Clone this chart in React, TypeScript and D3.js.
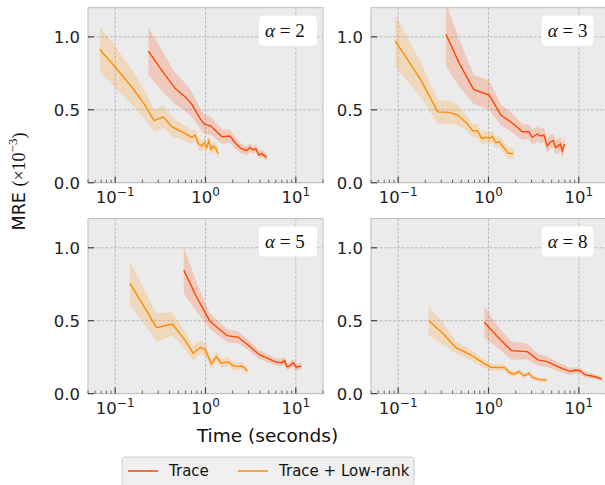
import React from 'react';
import * as d3 from 'd3';

const W = 605;
const H = 485;
const RED = '#ff4500';
const ORANGE = '#ff8c00';

// alpha = 2
const a2TraceTime = [0.233, 0.327, 0.459, 0.593, 0.703, 0.869, 0.97, 1.15, 1.33, 1.53, 1.87, 2.12, 2.47, 2.86, 3.11, 3.33, 3.6, 3.91, 4.19, 4.76];
const a2TraceMre = [0.902, 0.772, 0.647, 0.589, 0.539, 0.441, 0.402, 0.388, 0.349, 0.315, 0.32, 0.274, 0.235, 0.219, 0.242, 0.224, 0.233, 0.19, 0.201, 0.174];
const a2TraceErr = [0.163, 0.14, 0.108, 0.095, 0.085, 0.07, 0.068, 0.06, 0.055, 0.05, 0.045, 0.04, 0.035, 0.03, 0.03, 0.028, 0.028, 0.025, 0.025, 0.025];
const a2LowTime = [0.0674, 0.0995, 0.152, 0.214, 0.269, 0.341, 0.423, 0.593, 0.703, 0.766, 0.832, 0.907, 0.97, 1.03, 1.09, 1.15, 1.22, 1.3, 1.39];
const a2LowMre = [0.914, 0.795, 0.658, 0.532, 0.425, 0.452, 0.384, 0.338, 0.311, 0.327, 0.27, 0.251, 0.274, 0.242, 0.288, 0.229, 0.251, 0.235, 0.197];
const a2LowErr = [0.156, 0.14, 0.12, 0.095, 0.078, 0.075, 0.065, 0.05, 0.045, 0.045, 0.04, 0.04, 0.038, 0.038, 0.036, 0.035, 0.035, 0.035, 0.035];

// alpha = 3
const a3TraceTime = [0.338, 0.475, 0.684, 1.02, 1.37, 1.76, 2.37, 2.81, 3.05, 3.47, 3.78, 4.11, 4.47, 4.87, 5.21, 5.52, 5.87, 6.27, 6.55, 6.95];
const a3TraceMre = [1.018, 0.818, 0.64, 0.601, 0.464, 0.418, 0.349, 0.349, 0.311, 0.334, 0.32, 0.327, 0.251, 0.281, 0.288, 0.242, 0.251, 0.265, 0.219, 0.265];
const a3TraceErr = [0.22, 0.16, 0.1, 0.1, 0.07, 0.065, 0.055, 0.05, 0.05, 0.05, 0.05, 0.05, 0.05, 0.05, 0.05, 0.05, 0.05, 0.05, 0.05, 0.05];
const a3LowTime = [0.0927, 0.128, 0.179, 0.274, 0.369, 0.455, 0.586, 0.667, 0.757, 0.838, 0.933, 1.02, 1.11, 1.2, 1.31, 1.43, 1.51, 1.65, 1.89];
const a3LowMre = [0.973, 0.84, 0.703, 0.486, 0.482, 0.464, 0.402, 0.356, 0.356, 0.304, 0.311, 0.304, 0.315, 0.274, 0.281, 0.251, 0.235, 0.201, 0.201];
const a3LowErr = [0.176, 0.15, 0.12, 0.08, 0.08, 0.07, 0.05, 0.045, 0.045, 0.04, 0.04, 0.04, 0.04, 0.04, 0.04, 0.04, 0.04, 0.04, 0.04];

// alpha = 5
const a5TraceTime = [0.575, 0.794, 1.11, 1.38, 1.75, 2.3, 2.96, 3.98, 4.92, 5.83, 6.92, 7.53, 7.98, 8.55, 9.31, 10.1, 11.5];
const a5TraceMre = [0.847, 0.664, 0.5, 0.448, 0.397, 0.386, 0.333, 0.265, 0.242, 0.219, 0.212, 0.226, 0.185, 0.19, 0.212, 0.181, 0.19];
const a5TraceErr = [0.16, 0.1, 0.055, 0.05, 0.045, 0.04, 0.035, 0.03, 0.028, 0.025, 0.025, 0.025, 0.025, 0.025, 0.025, 0.025, 0.025];
const a5LowTime = [0.146, 0.204, 0.287, 0.428, 0.59, 0.73, 0.887, 1.0, 1.16, 1.32, 1.5, 1.78, 2.02, 2.29, 2.5, 2.72, 2.91];
const a5LowMre = [0.756, 0.607, 0.452, 0.477, 0.368, 0.277, 0.318, 0.299, 0.203, 0.253, 0.208, 0.219, 0.19, 0.185, 0.19, 0.174, 0.155];
const a5LowErr = [0.15, 0.12, 0.097, 0.08, 0.06, 0.05, 0.045, 0.04, 0.035, 0.035, 0.03, 0.03, 0.028, 0.025, 0.025, 0.025, 0.025];

// alpha = 8
const a8TraceTime = [0.897, 1.26, 1.79, 2.69, 3.53, 4.47, 6.02, 8.08, 9.17, 10.4, 11.8, 14.0, 15.9, 18.0];
const a8TraceMre = [0.489, 0.39, 0.295, 0.288, 0.231, 0.219, 0.181, 0.151, 0.162, 0.155, 0.128, 0.121, 0.112, 0.099];
const a8TraceErr = [0.106, 0.075, 0.063, 0.055, 0.04, 0.035, 0.03, 0.025, 0.022, 0.02, 0.02, 0.018, 0.015, 0.015];
const a8LowTime = [0.218, 0.311, 0.436, 0.638, 0.859, 1.06, 1.51, 1.69, 1.92, 2.18, 2.47, 2.81, 3.05, 3.47, 3.78, 4.4];
const a8LowMre = [0.5, 0.414, 0.315, 0.265, 0.212, 0.181, 0.178, 0.146, 0.133, 0.151, 0.121, 0.14, 0.112, 0.099, 0.094, 0.094];
const a8LowErr = [0.1, 0.075, 0.04, 0.035, 0.03, 0.025, 0.022, 0.02, 0.02, 0.018, 0.018, 0.015, 0.015, 0.015, 0.015, 0.015];

const alphas = [2, 3, 5, 8];
const xDomain = [0.05, 20];
const yDomain = [0, 1.2];
const xTicks = [0.1, 1, 10];
const xTickExps = ['−1', '0', '1'];
const yTicks = [0, 0.5, 1.0];
const yTickLabels = ['0.0', '0.5', '1.0'];
const seriesNames = ['Trace', 'Trace + Low-rank'];

type Series = { t: number[]; v: number[]; e: number[] };
const panelData: { trace: Series; low: Series }[] = [
  { trace: { t: a2TraceTime, v: a2TraceMre, e: a2TraceErr }, low: { t: a2LowTime, v: a2LowMre, e: a2LowErr } },
  { trace: { t: a3TraceTime, v: a3TraceMre, e: a3TraceErr }, low: { t: a3LowTime, v: a3LowMre, e: a3LowErr } },
  { trace: { t: a5TraceTime, v: a5TraceMre, e: a5TraceErr }, low: { t: a5LowTime, v: a5LowMre, e: a5LowErr } },
  { trace: { t: a8TraceTime, v: a8TraceMre, e: a8TraceErr }, low: { t: a8LowTime, v: a8LowMre, e: a8LowErr } },
];

const PW = 235;
const PH = 175;
const colLeft = [88, 371];
const rowTop = [7.7, 218.6];
const SANS = 'DejaVu Sans, sans-serif';
const MATH = 'Liberation Serif, DejaVu Serif, serif';

function minorTicks(): number[] {
  const out: number[] = [];
  for (let e = -2; e <= 1; e++) {
    for (let m = 2; m <= 9; m++) {
      const v = m * Math.pow(10, e);
      if (v >= xDomain[0] - 1e-9 && v <= xDomain[1] + 1e-9) out.push(v);
    }
  }
  return out;
}

function Panel({ idx }: { idx: number }) {
  const col = idx % 2;
  const row = Math.floor(idx / 2);
  const left = colLeft[col];
  const top = rowTop[row];
  const x = d3.scaleLog().domain(xDomain).range([left, left + PW]);
  const y = d3.scaleLinear().domain(yDomain).range([top + PH, top]);
  const bottom = top + PH;
  const clipId = `clip${idx}`;
  const data = panelData[idx];

  const line = (s: Series) =>
    d3.line<number>().x((_, i) => x(s.t[i])).y((d) => y(d))(s.v) || '';
  const area = (s: Series) =>
    d3
      .area<number>()
      .x((_, i) => x(s.t[i]))
      .y0((d, i) => y(d - s.e[i]))
      .y1((d, i) => y(d + s.e[i]))(s.v) || '';

  const boxX = col === 0 ? left + PW - 64 : 541.7;
  const boxW = col === 0 ? 58 : 51.6;
  const boxY = top + 8;

  return (
    <g>
      <defs>
        <clipPath id={clipId}>
          <rect x={left} y={top} width={PW} height={PH} />
        </clipPath>
      </defs>
      <rect x={left} y={top} width={PW} height={PH} fill="#ebebeb" />
      {xTicks.map((t) => (
        <line key={'gx' + t} x1={x(t)} x2={x(t)} y1={top} y2={bottom} stroke="#b0b0b0" strokeWidth={0.8} strokeDasharray="2.8,1.6" />
      ))}
      {yTicks.map((t) => (
        <line key={'gy' + t} x1={left} x2={left + PW} y1={y(t)} y2={y(t)} stroke="#b0b0b0" strokeWidth={0.8} strokeDasharray="2.8,1.6" />
      ))}
      <g clipPath={`url(#${clipId})`}>
        <path d={area(data.trace)} fill={RED} fillOpacity={0.2} stroke="none" />
        <path d={area(data.low)} fill={ORANGE} fillOpacity={0.2} stroke="none" />
        <path d={line(data.trace)} fill="none" stroke={RED} strokeWidth={1.4} />
        <path d={line(data.low)} fill="none" stroke={ORANGE} strokeWidth={1.4} />
      </g>
      <rect x={left} y={top} width={PW} height={PH} fill="none" stroke="#bcbcbc" strokeWidth={1} />
      {yTicks.map((t, i) => (
        <g key={'yt' + t}>
          <line x1={left} x2={left + 6} y1={y(t)} y2={y(t)} stroke="#444" strokeWidth={1.2} />
          <text x={left - 8} y={y(t)} dy="0.36em" textAnchor="end" fontSize={16.5} fontFamily={SANS} fill="#222">
            {yTickLabels[i]}
          </text>
        </g>
      ))}
      {xTicks.map((t, i) => (
        <g key={'xt' + t}>
          <line x1={x(t)} x2={x(t)} y1={bottom} y2={bottom - 6} stroke="#444" strokeWidth={1.2} />
          <text x={x(t)} y={bottom + 20.6} textAnchor="middle" fontFamily={SANS} fill="#222">
            <tspan fontSize={16.5}>10</tspan>
            <tspan fontSize={12} dy={-7}>{xTickExps[i]}</tspan>
          </text>
        </g>
      ))}
      {minorTicks().map((t) => (
        <line key={'mt' + t} x1={x(t)} x2={x(t)} y1={bottom} y2={bottom - 3} stroke="#444" strokeWidth={0.8} />
      ))}
      <rect x={boxX} y={boxY} width={boxW} height={30} rx={4} fill="#ffffff" />
      <text x={boxX + 6} y={boxY + 21.6} fontFamily={MATH} fontSize={19} fill="#111" xmlSpace="preserve">
        <tspan fontStyle="italic">α</tspan>
        <tspan> = {alphas[idx]}</tspan>
      </text>
    </g>
  );
}

export default function App() {
  return (
    <svg width={W} height={H} style={{ position: 'absolute', left: 0, top: 0, background: '#fff' }}>
      {alphas.map((_, i) => (
        <Panel key={i} idx={i} />
      ))}
      <text transform="translate(25,181.5) rotate(-90)" textAnchor="middle" fill="#111">
        <tspan fontFamily={SANS} fontSize={17.5}>MRE </tspan>
        <tspan fontFamily={MATH} fontSize={18}>(×10</tspan>
        <tspan fontFamily={MATH} fontSize={13} dy={-8}>−3</tspan>
        <tspan fontFamily={MATH} fontSize={18} dy={8}>)</tspan>
      </text>
      <text x={267.5} y={442} textAnchor="middle" fontFamily={SANS} fontSize={18.5} fill="#111">
        Time (seconds)
      </text>
      <rect x={122} y={457} width={292} height={40} rx={3} fill="#f0f0f0" stroke="#cccccc" strokeWidth={1} />
      <line x1={128} x2={158} y1={471} y2={471} stroke={RED} strokeWidth={1.5} />
      <text x={169} y={476} fontFamily={SANS} fontSize={15} fill="#111">{seriesNames[0]}</text>
      <line x1={238} x2={268} y1={471} y2={471} stroke={ORANGE} strokeWidth={1.5} />
      <text x={279} y={476} fontFamily={SANS} fontSize={15} fill="#111">{seriesNames[1]}</text>
    </svg>
  );
}
